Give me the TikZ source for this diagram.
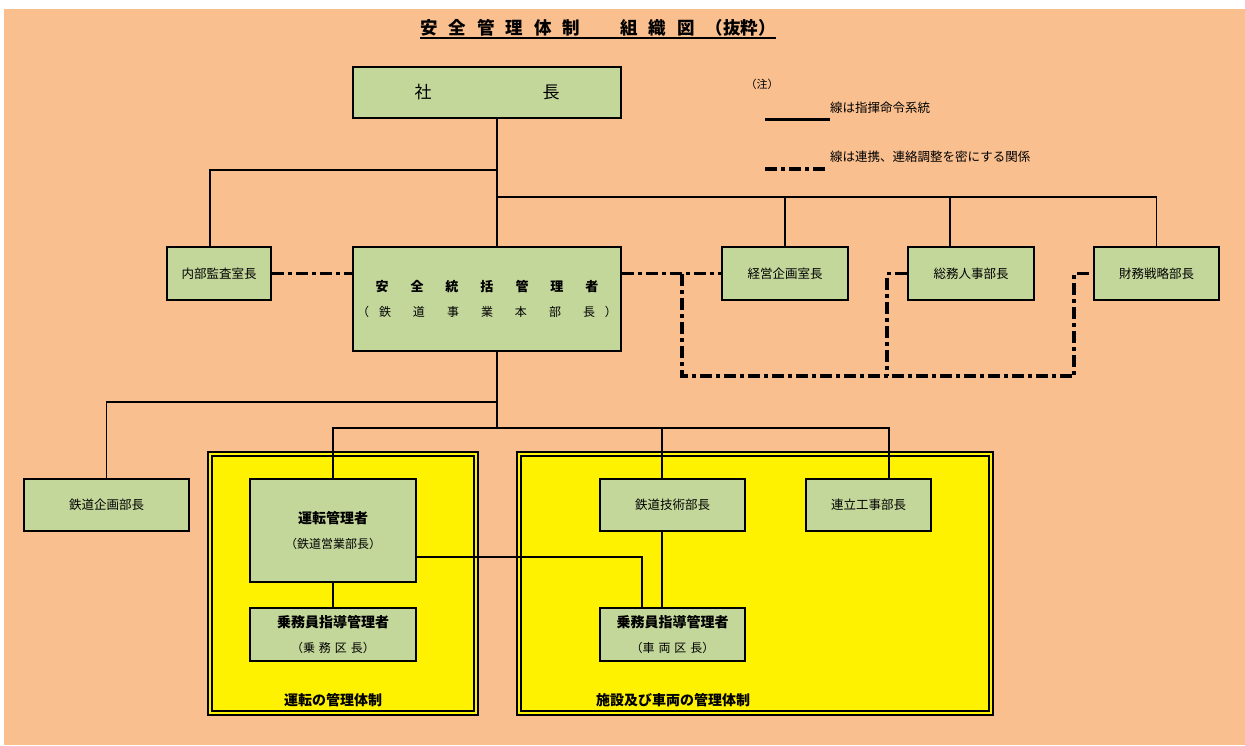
\documentclass[tikz,border=0pt]{standalone}
\usepackage{fontspec}
\setmainfont{Noto Sans CJK JP}
\usetikzlibrary{calc}
\definecolor{bgorange}{HTML}{F9BF8F}
\definecolor{boxgreen}{HTML}{C4D79B}
\tikzset{
  box/.style={draw, line width=1.8pt, fill=boxgreen, inner sep=0pt, align=center,
    font=\fontsize{12.5}{25}\selectfont},
  group/.style={draw, line width=2pt, double=yellow, double distance=2pt,
    fill=yellow, inner sep=0pt},
  grouplabel/.style={inner sep=0pt, font=\fontsize{14}{16}\selectfont\bfseries},
  cmd/.style={line width=1.8pt},
  coop/.style={line width=3.6pt, dash pattern=on 12pt off 4pt on 4pt off 4pt},
}

\begin{document}
\begin{tikzpicture}[x=1pt,y=-1pt]
\def\tg{\hspace{11pt}}
\def\gw{\hspace{22pt}}
\def\gs{\hspace{4pt}}
\useasboundingbox (0,0) rectangle (1245,745);
\fill[white] (0,0) rectangle (1245,745);
\fill[bgorange] (4,9) rectangle (1245,745);

% title
\node[anchor=base, inner sep=0pt, font=\fontsize{17.5}{20}\selectfont\bfseries] (title) at (598,34)
  {安\tg 全\tg 管\tg 理\tg 体\tg 制\hspace{40pt}組\tg 織\tg 図\tg （抜粋）};
\draw[line width=2pt] ([yshift=-4pt]title.base west) -- ([yshift=-4pt]title.base east);

% legend
\node[inner sep=0pt, font=\fontsize{11}{13}\selectfont] (note) at (762,84) {（注）};
\node[anchor=west, inner sep=0pt, font=\fontsize{12.5}{15}\selectfont] (leg1) at (830,108) {線は指揮命令系統};
\node[anchor=west, inner sep=0pt, font=\fontsize{12.5}{15}\selectfont] (leg2) at (830,157) {線は連携、連絡調整を密にする関係};
\coordinate (l1) at (765,119);
\coordinate (l2) at (765,169);
\draw[line width=3pt] (l1) -- (l1 -| leg1.west);
\draw[coop] (l2) -- ($(l2 -| leg2.west)+(-4,0)$);

% groups
\node[group, minimum width=266pt, minimum height=259pt] (unyo) at (343,583.5) {};
\node[group, minimum width=472pt, minimum height=259pt] (setsubi) at (755,583.5) {};
\node[grouplabel] (unyolbl) at (333,700) {運転の管理体制};
\node[grouplabel] (setsubilbl) at (673,700) {施設及び車両の管理体制};

% boxes
\node[box, minimum width=268pt, minimum height=51pt] (shacho) at (487,92.5)
  {\fontsize{17}{20}\selectfont 社\hspace{111pt}長};
\node[box, minimum width=104pt, minimum height=53pt] (naibu) at (219,273.5) {内部監査室長};
\node[box, minimum width=268pt, minimum height=104pt] (sokatsu) at (487,299)
  {{\bfseries\fontsize{13}{25}\selectfont 安\gw 全\gw 統\gw 括\gw 管\gw 理\gw 者}\\
   {\fontsize{12}{25}\selectfont （\hspace{10pt}鉄\gw 道\gw 事\gw 業\gw 本\gw 部\gw 長\hspace{10pt}）}};
\node[box, minimum width=126pt, minimum height=53pt] (keiei) at (785,273.5) {経営企画室長};
\node[box, minimum width=126pt, minimum height=53pt] (somu) at (971,273.5) {総務人事部長};
\node[box, minimum width=125pt, minimum height=53pt] (zaimu) at (1156.5,273.5) {財務戦略部長};
\node[box, minimum width=165pt, minimum height=52pt] (kikaku) at (106.5,505) {鉄道企画部長};
\node[box, minimum width=166pt, minimum height=103pt] (unten) at (333,530.5)
  {{\bfseries\fontsize{14}{25}\selectfont 運転管理者}\\
   {\fontsize{12}{25}\selectfont （鉄道営業部長）}};
\node[box, minimum width=166pt, minimum height=53pt] (jomu) at (333,634.5)
  {{\bfseries\fontsize{14}{26}\selectfont 乗務員指導管理者}\\
   {\fontsize{12}{26}\selectfont （乗\gs 務\gs 区\gs 長）}};
\node[box, minimum width=145pt, minimum height=52pt] (gijutsu) at (672.5,505) {鉄道技術部長};
\node[box, minimum width=125pt, minimum height=52pt] (renritsu) at (868.5,505) {連立工事部長};
\node[box, minimum width=145pt, minimum height=53pt] (sharyo) at (672.5,634.5)
  {{\bfseries\fontsize{14}{26}\selectfont 乗務員指導管理者}\\
   {\fontsize{12}{26}\selectfont （車\gs 両\gs 区\gs 長）}};

% command lines
\coordinate (busA) at (497,170);
\coordinate (busB) at (497,197);
\coordinate (busC) at (497,402);
\coordinate (busD) at (497,428);
\draw[cmd] (shacho.south -| busA) -- (sokatsu.north -| busA);
\draw[cmd] (busA) -| ($(naibu.north)+(-9,0)$);
\draw[cmd] (busB) -| (zaimu.north);
\draw[cmd] (busB -| keiei.north) -- (keiei.north);
\draw[cmd] ($(somu.north)+(-21,0)$) |- (busB);
\draw[cmd] (sokatsu.south -| busD) -- (busD);
\draw[cmd] (busC) -| (kikaku.north);
\draw[cmd] (unten.north) |- (busD) -| ($(renritsu.north)+(20.5,0)$);
\draw[cmd] (busD -| 662,0) -- ($(gijutsu.north)+(-10.5,0)$);
\draw[cmd] (unten.south) -- (jomu.north);
\draw[cmd] ($(gijutsu.south)+(-10.5,0)$) -- ($(sharyo.north)+(-10.5,0)$);
\draw[cmd] (unten.east |- 0,557) -| ($(sharyo.north)+(-30.5,0)$);

% cooperation lines
\draw[coop] (naibu.east) -- (sokatsu.west |- naibu.east);
\draw[coop] (sokatsu.east |- keiei.west) -- (keiei.west);
\draw[coop] ($(keiei.west)+(-39,0)$) |- ($(zaimu.west)+(-19,102.5)$) -- ($(zaimu.west)+(-19,0)$) -- (zaimu.west);
\draw[coop] (somu.west) -- ++(-20,0) -- ++(0,102.5);
\end{tikzpicture}
\end{document}
